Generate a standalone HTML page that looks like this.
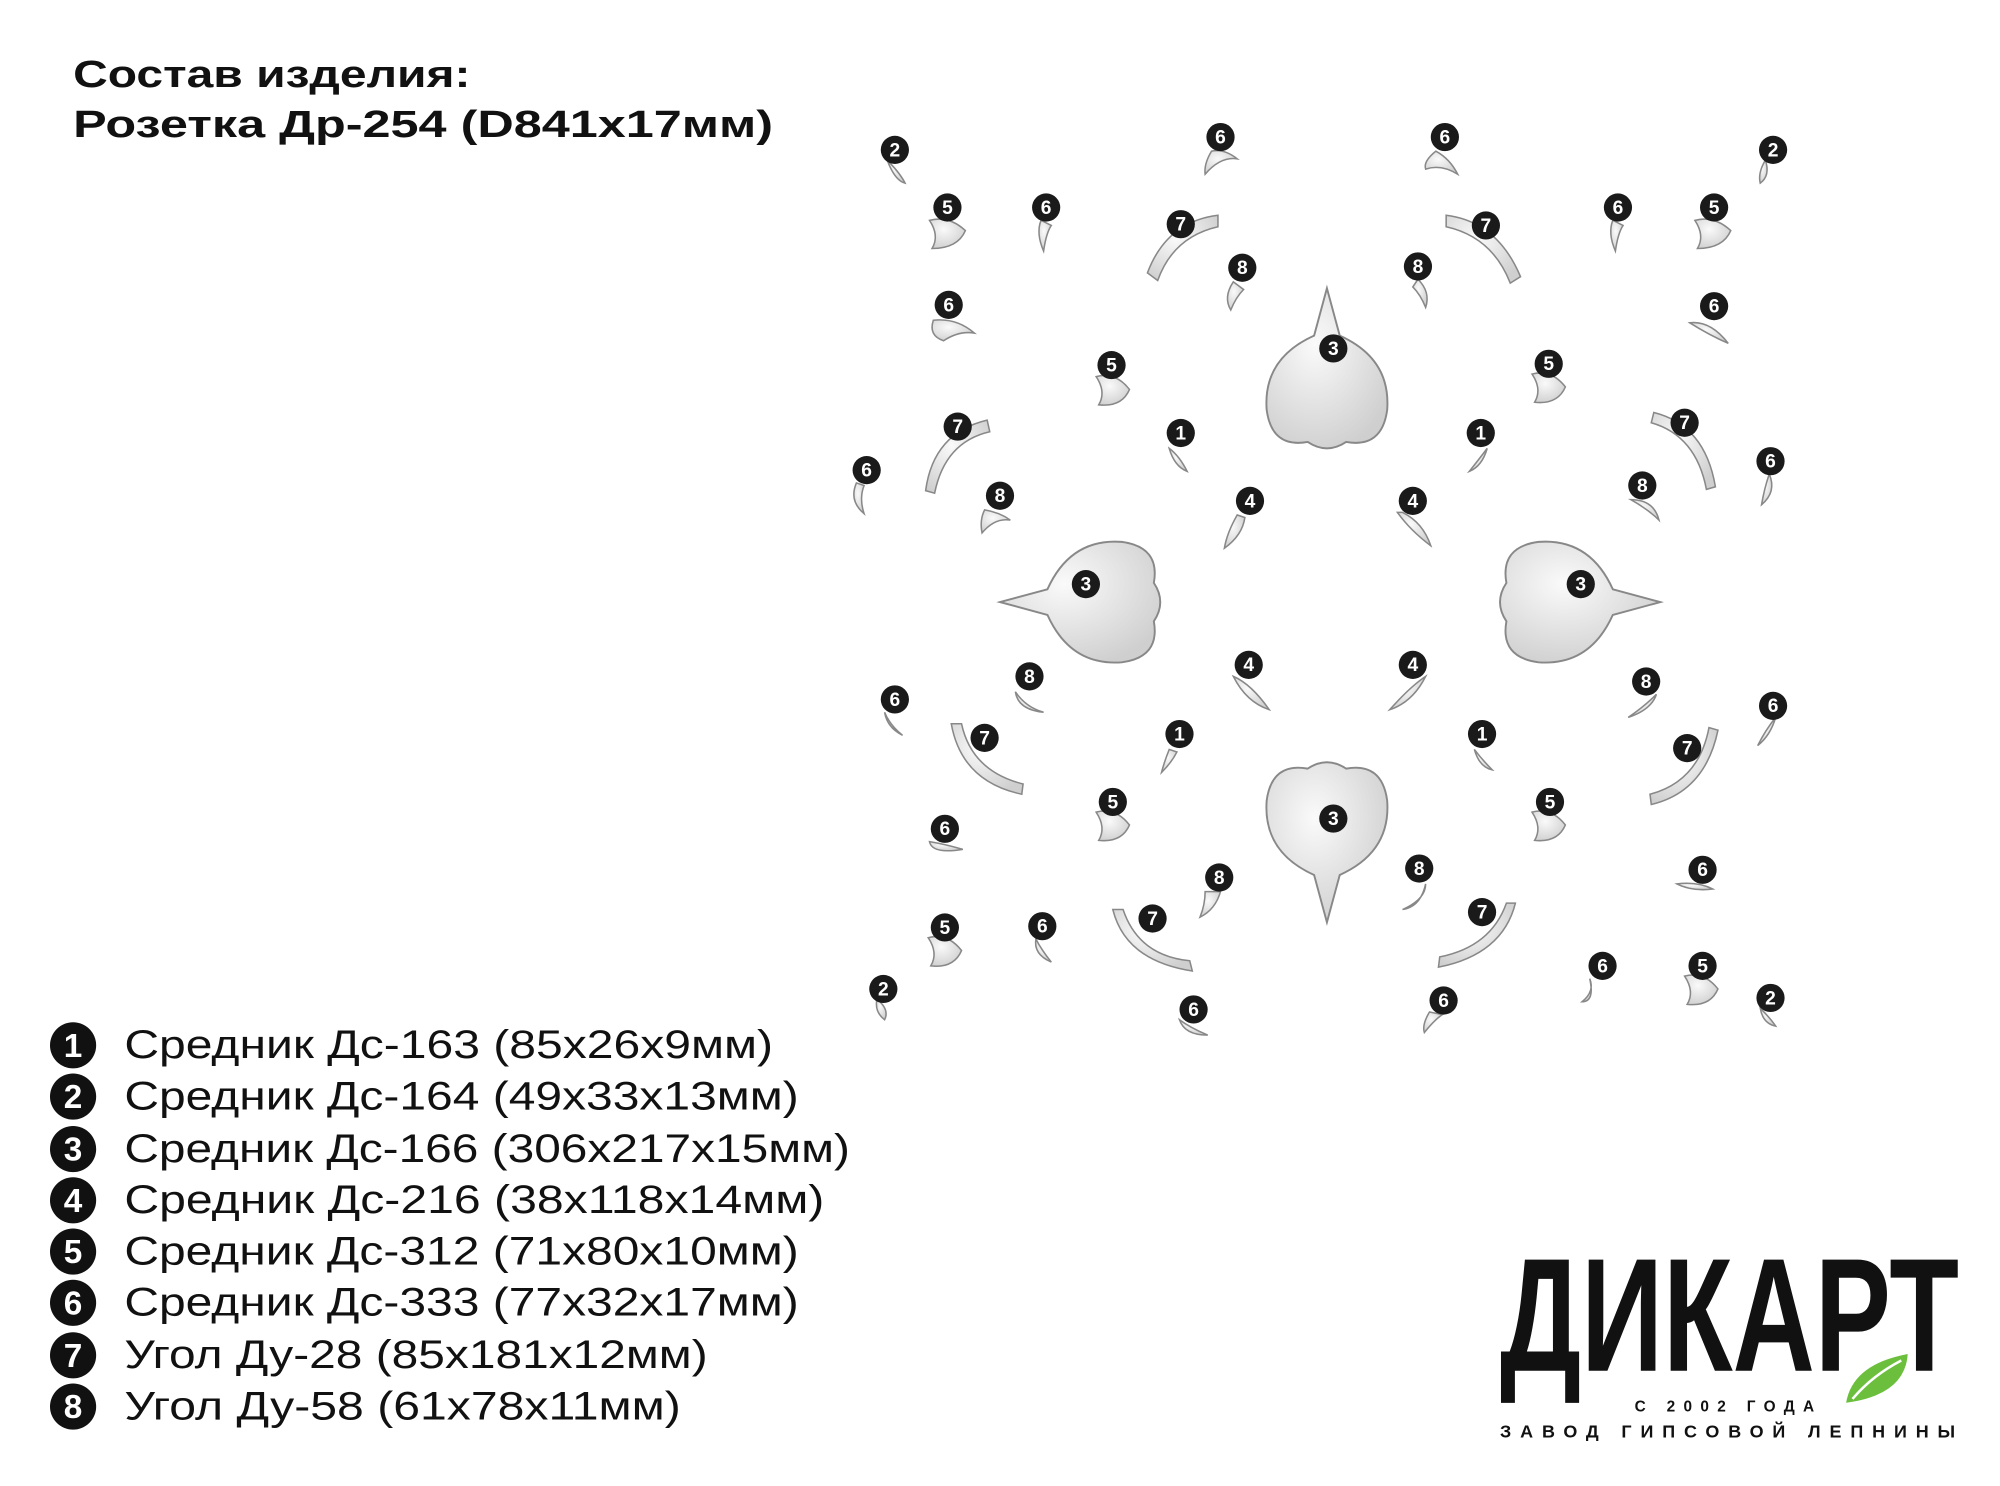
<!DOCTYPE html>
<html><head><meta charset="utf-8"><style>
html,body{margin:0;padding:0;background:#fff;}
svg{display:block;}
text{font-family:"Liberation Sans",sans-serif;}
</style></head><body>
<svg width="2000" height="1486" viewBox="0 0 1560 1160" preserveAspectRatio="none" xmlns="http://www.w3.org/2000/svg">
<defs>
<radialGradient id="g" cx="40%" cy="35%" r="70%"><stop offset="0" stop-color="#fafafa"/><stop offset="1" stop-color="#cfcfcf"/></radialGradient>
</defs>
<rect width="1560" height="1160" fill="#fff"/>
<text x="57" y="68" font-size="30" font-weight="bold" fill="#111" textLength="310" lengthAdjust="spacingAndGlyphs">Состав изделия:</text>
<text x="57" y="107" font-size="30" font-weight="bold" fill="#111" textLength="546" lengthAdjust="spacingAndGlyphs">Розетка Др-254 (D841x17мм)</text>

<g fill="url(#g)" stroke="#888" stroke-width="1.5">
<path d="M1035 225 L1045 262 Q1085 280 1082 320 Q1078 350 1050 345 Q1035 355 1020 345 Q992 350 988 320 Q985 280 1025 262 Z"/>
<path d="M1035 720 L1045 683 Q1085 665 1082 625 Q1078 595 1050 600 Q1035 590 1020 600 Q992 595 988 625 Q985 665 1025 683 Z"/>
<path d="M780 470 L817 460 Q835 420 875 423 Q905 427 900 455 Q910 470 900 485 Q905 513 875 517 Q835 520 817 480 Z"/>
<path d="M1295 470 L1258 460 Q1240 420 1200 423 Q1170 427 1175 455 Q1165 470 1175 485 Q1170 513 1200 517 Q1240 520 1258 480 Z"/>
</g>

<g fill="url(#g)" stroke="#888" stroke-width="1.2">
<path d="M692 125 q10 10 14 18 q-8 -2 -14 -18z"/><path d="M1377 125 q-6 10 -4 18 q8 -6 4 -18z"/>
<path d="M684 780 q10 8 6 16 q-8 -6 -6 -16z"/><path d="M1373 787 q8 8 12 14 q-10 -2 -12 -14z"/>
<path d="M945 118 q-6 10 -5 18 q12 -14 25 -12 q-10 -8 -20 -6z"/>
<path d="M1120 118 q-10 8 -8 14 q12 -4 25 4 q-6 -12 -17 -18z"/>
<path d="M812 172 q-4 10 2 24 q2 -14 6 -20z"/><path d="M1258 172 q-4 10 2 24 q2 -14 6 -20z"/>
<path d="M728 250 q-4 12 8 16 q12 -8 24 -6 q-14 -12 -32 -10z"/><path d="M1318 252 q16 -2 30 16 q-14 -6 -30 -16z"/>
<path d="M668 377 q-6 14 6 24 q-4 -12 0 -22z"/><path d="M1380 370 q6 14 -6 24 q2 -12 6 -24z"/>
<path d="M690 556 q2 12 14 18 q-10 -8 -14 -18z"/><path d="M1385 560 q-4 14 -14 22 q6 -12 14 -22z"/>
<path d="M725 657 q2 10 26 6 q-14 -4 -26 -6z"/><path d="M1308 690 q12 6 28 4 q-12 -6 -28 -4z"/>
<path d="M808 733 q-2 12 12 18 q-8 -10 -12 -18z"/><path d="M1240 764 q4 10 -6 18 q10 0 6 -18z"/>
<path d="M920 796 q4 12 22 12 q-14 -6 -22 -12z"/><path d="M1115 790 q-6 10 -4 16 q8 -10 14 -14z"/>
<path d="M725 172 q15 -4 28 8 q-6 14 -26 14 q6 -10 -2 -22z"/><path d="M1322 172 q15 -4 28 8 q-6 14 -26 14 q6 -10 -2 -22z"/>
<path d="M855 294 q15 -4 26 10 q-6 14 -24 12 q6 -10 -2 -22z"/><path d="M1195 292 q15 -4 26 10 q-6 14 -24 12 q6 -10 -2 -22z"/>
<path d="M855 634 q15 -4 26 10 q-6 14 -24 12 q6 -10 -2 -22z"/><path d="M1195 634 q15 -4 26 10 q-6 14 -24 12 q6 -10 -2 -22z"/>
<path d="M724 732 q15 -4 26 10 q-6 14 -24 12 q6 -10 -2 -22z"/><path d="M1314 762 q15 -4 26 10 q-6 14 -24 12 q6 -10 -2 -22z"/>
<path d="M950 168 q-40 5 -55 45 l8 6 q12 -34 47 -42z"/><path d="M1128 168 q40 5 58 48 l-8 5 q-14 -36 -50 -44z"/>
<path d="M770 328 q-42 10 -48 55 l7 2 q8 -40 43 -48z"/><path d="M1290 322 q40 10 48 58 l-7 2 q-8 -42 -43 -52z"/>
<path d="M742 565 q8 45 55 55 l1 -8 q-40 -10 -48 -47z"/><path d="M1340 570 q-10 48 -52 58 l-1 -8 q38 -10 46 -52z"/>
<path d="M868 710 q10 40 62 48 l-2 -8 q-40 -4 -52 -40z"/><path d="M1182 705 q-10 40 -60 50 l1 -8 q40 -8 52 -42z"/>
<path d="M962 220 q-8 12 -2 22 q4 -10 10 -16z"/><path d="M1106 218 q10 10 6 22 q-4 -10 -10 -16z"/>
<path d="M768 398 q-4 8 -2 18 q10 -12 22 -10 q-8 -6 -20 -8z"/><path d="M1272 390 q18 0 22 16 q-8 -8 -22 -16z"/>
<path d="M792 540 q2 14 22 16 q-14 -4 -22 -16z"/><path d="M1292 542 q-4 12 -22 18 q12 -8 22 -18z"/>
<path d="M940 696 q0 10 -4 20 q12 -6 16 -20z"/><path d="M1112 690 q0 12 -18 20 q14 -2 18 -20z"/>
<path d="M912 350 q8 6 14 18 q-10 -4 -14 -18z"/><path d="M1160 350 q-6 8 -14 18 q10 -4 14 -18z"/>
<path d="M912 585 q-4 10 -6 18 q8 -8 12 -16z"/><path d="M1150 585 q6 8 14 16 q-10 -2 -14 -16z"/>
<path d="M965 402 q-8 14 -10 26 q14 -10 16 -24z"/><path d="M1090 400 q10 14 26 26 q-6 -18 -22 -26z"/>
<path d="M962 528 q14 6 28 26 q-18 -6 -28 -26z"/><path d="M1112 528 q-12 8 -28 26 q18 -6 28 -26z"/>
</g>

<g font-size="15" font-weight="bold" text-anchor="middle" fill="#fff">
<g fill="#1a1a1a">
<circle cx="698" cy="117" r="11"/><circle cx="1383" cy="117" r="11"/><circle cx="689" cy="772" r="11"/><circle cx="1381" cy="779" r="11"/>
<circle cx="952" cy="107" r="11"/><circle cx="1127" cy="107" r="11"/><circle cx="816" cy="162" r="11"/><circle cx="1262" cy="162" r="11"/><circle cx="740" cy="238" r="11"/><circle cx="1337" cy="239" r="11"/><circle cx="676" cy="367" r="11"/><circle cx="1381" cy="360" r="11"/><circle cx="698" cy="546" r="11"/><circle cx="1383" cy="551" r="11"/><circle cx="737" cy="647" r="11"/><circle cx="1328" cy="679" r="11"/><circle cx="813" cy="723" r="11"/><circle cx="1250" cy="754" r="11"/><circle cx="931" cy="788" r="11"/><circle cx="1126" cy="781" r="11"/>
<circle cx="739" cy="162" r="11"/><circle cx="1337" cy="162" r="11"/><circle cx="867" cy="285" r="11"/><circle cx="1208" cy="284" r="11"/><circle cx="868" cy="626" r="11"/><circle cx="1209" cy="626" r="11"/><circle cx="737" cy="724" r="11"/><circle cx="1328" cy="754" r="11"/>
<circle cx="921" cy="175" r="11"/><circle cx="1159" cy="176" r="11"/><circle cx="747" cy="333" r="11"/><circle cx="1314" cy="330" r="11"/><circle cx="768" cy="576" r="11"/><circle cx="1316" cy="584" r="11"/><circle cx="899" cy="717" r="11"/><circle cx="1156" cy="712" r="11"/>
<circle cx="969" cy="209" r="11"/><circle cx="1106" cy="208" r="11"/><circle cx="780" cy="387" r="11"/><circle cx="1281" cy="379" r="11"/><circle cx="803" cy="528" r="11"/><circle cx="1284" cy="532" r="11"/><circle cx="951" cy="685" r="11"/><circle cx="1107" cy="678" r="11"/>
<circle cx="1040" cy="272" r="11"/><circle cx="847" cy="456" r="11"/><circle cx="1233" cy="456" r="11"/><circle cx="1040" cy="639" r="11"/>
<circle cx="921" cy="338" r="11"/><circle cx="1155" cy="338" r="11"/><circle cx="920" cy="573" r="11"/><circle cx="1156" cy="573" r="11"/>
<circle cx="975" cy="391" r="11"/><circle cx="1102" cy="391" r="11"/><circle cx="974" cy="519" r="11"/><circle cx="1102" cy="519" r="11"/>
</g>
<text x="698" y="122">2</text><text x="1383" y="122">2</text><text x="689" y="777">2</text><text x="1381" y="784">2</text>
<text x="952" y="112">6</text><text x="1127" y="112">6</text><text x="816" y="167">6</text><text x="1262" y="167">6</text><text x="740" y="243">6</text><text x="1337" y="244">6</text><text x="676" y="372">6</text><text x="1381" y="365">6</text><text x="698" y="551">6</text><text x="1383" y="556">6</text><text x="737" y="652">6</text><text x="1328" y="684">6</text><text x="813" y="728">6</text><text x="1250" y="759">6</text><text x="931" y="793">6</text><text x="1126" y="786">6</text>
<text x="739" y="167">5</text><text x="1337" y="167">5</text><text x="867" y="290">5</text><text x="1208" y="289">5</text><text x="868" y="631">5</text><text x="1209" y="631">5</text><text x="737" y="729">5</text><text x="1328" y="759">5</text>
<text x="921" y="180">7</text><text x="1159" y="181">7</text><text x="747" y="338">7</text><text x="1314" y="335">7</text><text x="768" y="581">7</text><text x="1316" y="589">7</text><text x="899" y="722">7</text><text x="1156" y="717">7</text>
<text x="969" y="214">8</text><text x="1106" y="213">8</text><text x="780" y="392">8</text><text x="1281" y="384">8</text><text x="803" y="533">8</text><text x="1284" y="537">8</text><text x="951" y="690">8</text><text x="1107" y="683">8</text>
<text x="1040" y="277">3</text><text x="847" y="461">3</text><text x="1233" y="461">3</text><text x="1040" y="644">3</text>
<text x="921" y="343">1</text><text x="1155" y="343">1</text><text x="920" y="578">1</text><text x="1156" y="578">1</text>
<text x="975" y="396">4</text><text x="1102" y="396">4</text><text x="974" y="524">4</text><text x="1102" y="524">4</text>
</g>

<g>
<g fill="#111"><circle cx="57" cy="816" r="18"/><circle cx="57" cy="856" r="18"/><circle cx="57" cy="897" r="18"/><circle cx="57" cy="937" r="18"/><circle cx="57" cy="977" r="18"/><circle cx="57" cy="1017" r="18"/><circle cx="57" cy="1058" r="18"/><circle cx="57" cy="1098" r="18"/></g>
<g fill="#fff" font-size="26" font-weight="bold" text-anchor="middle">
<text x="57" y="825">1</text><text x="57" y="865">2</text><text x="57" y="906">3</text><text x="57" y="946">4</text><text x="57" y="986">5</text><text x="57" y="1026">6</text><text x="57" y="1067">7</text><text x="57" y="1107">8</text>
</g>
<g fill="#111" font-size="31" lengthAdjust="spacingAndGlyphs">
<text x="97" y="826" textLength="506" lengthAdjust="spacingAndGlyphs">Средник Дс-163 (85x26x9мм)</text>
<text x="97" y="866" textLength="526" lengthAdjust="spacingAndGlyphs">Средник Дс-164 (49x33x13мм)</text>
<text x="97" y="907" textLength="566" lengthAdjust="spacingAndGlyphs">Средник Дс-166 (306x217x15мм)</text>
<text x="97" y="947" textLength="546" lengthAdjust="spacingAndGlyphs">Средник Дс-216 (38x118x14мм)</text>
<text x="97" y="987" textLength="526" lengthAdjust="spacingAndGlyphs">Средник Дс-312 (71x80x10мм)</text>
<text x="97" y="1027" textLength="526" lengthAdjust="spacingAndGlyphs">Средник Дс-333 (77x32x17мм)</text>
<text x="97" y="1068" textLength="455" lengthAdjust="spacingAndGlyphs">Угол Ду-28 (85x181x12мм)</text>
<text x="97" y="1108" textLength="434" lengthAdjust="spacingAndGlyphs">Угол Ду-58 (61x78x11мм)</text>
</g>
</g>

<text x="1170" y="1070" font-size="126" font-weight="bold" fill="#111" textLength="358" lengthAdjust="spacingAndGlyphs">ДИКАРТ</text>
<path d="M1440 1095 q5 -30 48 -38 q-2 32 -48 38z" fill="#6cbf3c"/>
<path d="M1445 1092 q15 -18 38 -30" stroke="#fff" stroke-width="2" fill="none"/>
<text x="1275" y="1102" font-size="12" font-weight="bold" fill="#111" textLength="140" lengthAdjust="spacing">С 2002 ГОДА</text>
<text x="1170" y="1122" font-size="14" font-weight="bold" fill="#111" textLength="355" lengthAdjust="spacing">ЗАВОД ГИПСОВОЙ ЛЕПНИНЫ</text>
</svg>
</body></html>
